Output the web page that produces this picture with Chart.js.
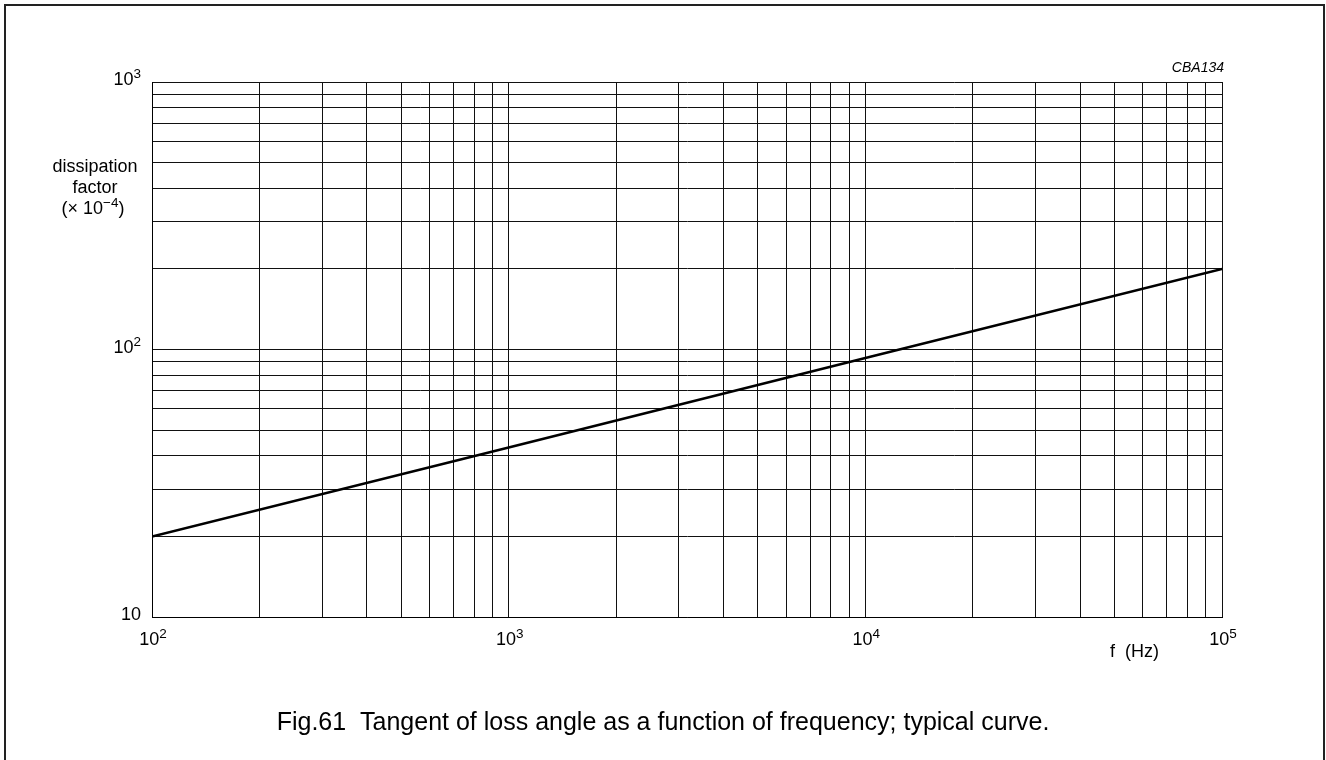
<!DOCTYPE html>
<html>
<head>
<meta charset="utf-8">
<script src="https://cdn.jsdelivr.net/npm/chart.js@4/dist/chart.umd.min.js"></script>
<style>
	html, body { margin: 0; padding: 0; background: #fff; }
	canvas { display: block; }
</style>
</head>
<body>
<canvas id="chart" width="1326" height="760"></canvas>
<script>
// typical curve, dissipation factor (x 1e-4) against frequency
let freqHz = [1e2, 1e3, 1e4, 1e5];
let tanDelta = [20, 43, 93, 200];

// decade labels drawn as 10^n
let xDecades = [1e2, 1e3, 1e4, 1e5];
let xExponents = ['2', '3', '4', '5'];
let yDecades = [10, 100, 1000];
let yExponents = ['', '2', '3'];

// grid lines at 1..9 within every decade
let mantissas = [1, 2, 3, 4, 5, 6, 7, 8, 9];

let FONT = '"Liberation Sans", Arial, Helvetica, sans-serif';
let INK = '#000';
let SUP = '13.5px ';

let decadeTicks = (scale) => {
	let out = [];
	let lo = Math.round(Math.log10(scale.min));
	let hi = Math.round(Math.log10(scale.max));
	for (let p = lo; p < hi; p++) {
		mantissas.forEach((m) => out.push({value: m * Math.pow(10, p)}));
	}
	out.push({value: Math.pow(10, hi)});
	scale.ticks = out;
};

let drawPower = (ctx, base, exp, x, y, align) => {
	ctx.font = '18px ' + FONT;
	let wb = ctx.measureText(base).width;
	ctx.font = SUP + FONT;
	let we = exp ? ctx.measureText(exp).width : 0;
	let total = wb + we;
	let x0 = align === 'right' ? x - total : x - total / 2;
	ctx.textAlign = 'left';
	ctx.textBaseline = 'alphabetic';
	ctx.font = '18px ' + FONT;
	ctx.fillText(base, x0, y);
	if (exp) {
		ctx.font = SUP + FONT;
		ctx.fillText(exp, x0 + wb, y - 7);
	}
};

let labels = {
	id: 'labels',
	afterDraw(chart) {
		let {ctx, scales} = chart;
		let {x, y} = scales;
		ctx.save();
		ctx.fillStyle = INK;

		// y decades
		yDecades.forEach((v, i) => {
			drawPower(ctx, '10', yExponents[i], 141, y.getPixelForValue(v) + 3, 'right');
		});
		// x decades
		xDecades.forEach((v, i) => {
			drawPower(ctx, '10', xExponents[i], x.getPixelForValue(v) + 1, 645, 'center');
		});

		// axis titles
		ctx.font = '18px ' + FONT;
		ctx.textAlign = 'left';
		ctx.fillText('f  (Hz)', 1110, 657);

		ctx.textAlign = 'center';
		ctx.fillText('dissipation', 95, 172);
		ctx.fillText('factor', 95, 193);
		// (× 10^-4)
		let a = '(× 10', e = '−4', b = ')';
		let wa = ctx.measureText(a).width;
		let wb = ctx.measureText(b).width;
		ctx.font = SUP + FONT;
		let we = ctx.measureText(e).width;
		let x0 = 93 - (wa + we + wb) / 2;
		ctx.textAlign = 'left';
		ctx.font = '18px ' + FONT;
		ctx.fillText(a, x0, 214);
		ctx.fillText(b, x0 + wa + we, 214);
		ctx.font = SUP + FONT;
		ctx.fillText(e, x0 + wa, 207);

		// drawing code
		ctx.font = 'italic 14px ' + FONT;
		ctx.textAlign = 'right';
		ctx.fillText('CBA134', 1224, 72);

		// caption
		ctx.font = '25px ' + FONT;
		ctx.textAlign = 'center';
		ctx.fillText('Fig.61  Tangent of loss angle as a function of frequency; typical curve.', 663, 730);

		// outer frame
		ctx.strokeStyle = '#222';
		ctx.lineWidth = 2;
		ctx.strokeRect(5, 5, 1319, 770);
		ctx.restore();
	},
};

let gridOpts = {
	color: '#111',
	lineWidth: 1,
	drawTicks: false,
};

new Chart(document.getElementById('chart'), {
	type: 'scatter',
	data: {
		datasets: [{
			data: freqHz.map((f, i) => ({x: f, y: tanDelta[i]})),
			showLine: true,
			borderColor: INK,
			borderWidth: 2.6,
			pointRadius: 0,
			tension: 0,
		}],
	},
	options: {
		responsive: false,
		animation: false,
		devicePixelRatio: 1,
		layout: {
			padding: {left: 152, top: 82, right: 104, bottom: 143},
		},
		plugins: {
			legend: {display: false},
			tooltip: {enabled: false},
		},
		scales: {
			x: {
				type: 'logarithmic',
				min: 1e2,
				max: 1e5,
				afterBuildTicks: decadeTicks,
				grid: gridOpts,
				border: {color: INK, width: 1},
				ticks: {display: false},
			},
			y: {
				type: 'logarithmic',
				min: 10,
				max: 1000,
				afterBuildTicks: decadeTicks,
				grid: gridOpts,
				border: {color: INK, width: 1},
				ticks: {display: false},
			},
		},
	},
	plugins: [labels],
});
</script>
</body>
</html>
